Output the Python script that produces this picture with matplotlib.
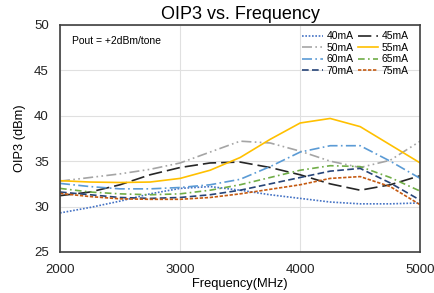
import numpy as np
import matplotlib.pyplot as plt

plt.rcParams['font.family'] = ['Liberation Sans', 'DejaVu Sans']

# 频率 (MHz)
freq = [2000, 2250, 2500, 2750, 3000, 3250, 3500, 3750, 4000, 4250, 4500, 4750, 5000]

# 各偏置电流下的 OIP3 (dBm)
oip3_40 = [29.3, 29.9, 30.6, 31.4, 32.0, 32.2, 31.8, 31.3, 30.9, 30.5, 30.3, 30.3, 30.4]
oip3_45 = [31.2, 31.6, 32.4, 33.5, 34.3, 34.8, 34.9, 34.3, 33.5, 32.5, 31.8, 32.4, 33.4]
oip3_50 = [32.8, 33.2, 33.6, 34.1, 34.8, 36.0, 37.2, 37.0, 36.1, 35.0, 34.3, 35.1, 37.2]
oip3_55 = [32.85, 32.7, 32.65, 32.7, 33.1, 34.0, 35.4, 37.4, 39.2, 39.7, 38.8, 36.8, 34.8]
oip3_60 = [32.55, 32.2, 31.95, 31.95, 32.1, 32.4, 33.0, 34.4, 36.0, 36.7, 36.7, 35.0, 33.1]
oip3_65 = [32.0, 31.6, 31.4, 31.3, 31.4, 31.8, 32.4, 33.2, 34.0, 34.5, 34.4, 33.2, 31.7]
oip3_70 = [31.6, 31.3, 31.0, 30.9, 31.0, 31.3, 31.8, 32.5, 33.2, 33.9, 34.2, 32.6, 30.7]
oip3_75 = [31.45, 31.1, 30.85, 30.8, 30.8, 31.0, 31.4, 31.9, 32.4, 33.1, 33.3, 32.2, 30.2]

labels = ['40mA', '45mA', '50mA', '55mA', '60mA', '65mA', '70mA', '75mA']
series = [oip3_40, oip3_45, oip3_50, oip3_55, oip3_60, oip3_65, oip3_70, oip3_75]
colors = ['#4472C4', '#262626', '#A5A5A5', '#FFC000', '#5B9BD5', '#70AD47', '#264478', '#C55A11']
styles = [(0, (1, 1)), (0, (8, 3)), (0, (6, 2, 1, 2, 1, 2)), '-',
          (0, (6, 2, 1, 2)), (0, (4, 2, 1, 2)), (0, (4, 2)), (0, (2, 1))]

fig = plt.figure(figsize=(4.35, 2.93), dpi=100)
ax = fig.add_axes([0.138, 0.14, 0.828, 0.775])

lines = []
for y, lab, c, ls in zip(series, labels, colors, styles):
    ln, = ax.plot(freq, y, color=c, linestyle=ls, linewidth=1.2, label=lab)
    lines.append(ln)

ax.set_xlim(2000, 5000)
ax.set_ylim(25, 50)
ax.set_xticks([2000, 3000, 4000, 5000])
ax.set_yticks([25, 30, 35, 40, 45, 50])
ax.grid(True, color='#E0E0E0', linewidth=0.8)
ax.set_axisbelow(True)
ax.tick_params(length=0, labelsize=9.5, colors='#222222')
ax.tick_params(axis='x', pad=9)
ax.tick_params(axis='y', pad=8)
for s in ax.spines.values():
    s.set_color('#404040')
    s.set_linewidth(1.2)

ax.set_title('OIP3 vs. Frequency', fontsize=13, pad=4)
ax.set_xlabel('Frequency(MHz)', fontsize=9.3, labelpad=1)
ax.set_ylabel('OIP3 (dBm)', fontsize=9.3, labelpad=6)

ax.text(0.033, 0.93, 'Pout = +2dBm/tone', transform=ax.transAxes, fontsize=7.5, va='center')

# 图例按行排列：两列
order = [0, 2, 4, 6, 1, 3, 5, 7]
ax.legend([lines[i] for i in order], [labels[i] for i in order], ncol=2,
          loc='upper right', bbox_to_anchor=(0.985, 1.0), frameon=False,
          fontsize=7.5, handlelength=2.0, handletextpad=0.3, columnspacing=0.4,
          labelspacing=0.15, borderaxespad=0.2)

fig.savefig('out.png', dpi=100)
